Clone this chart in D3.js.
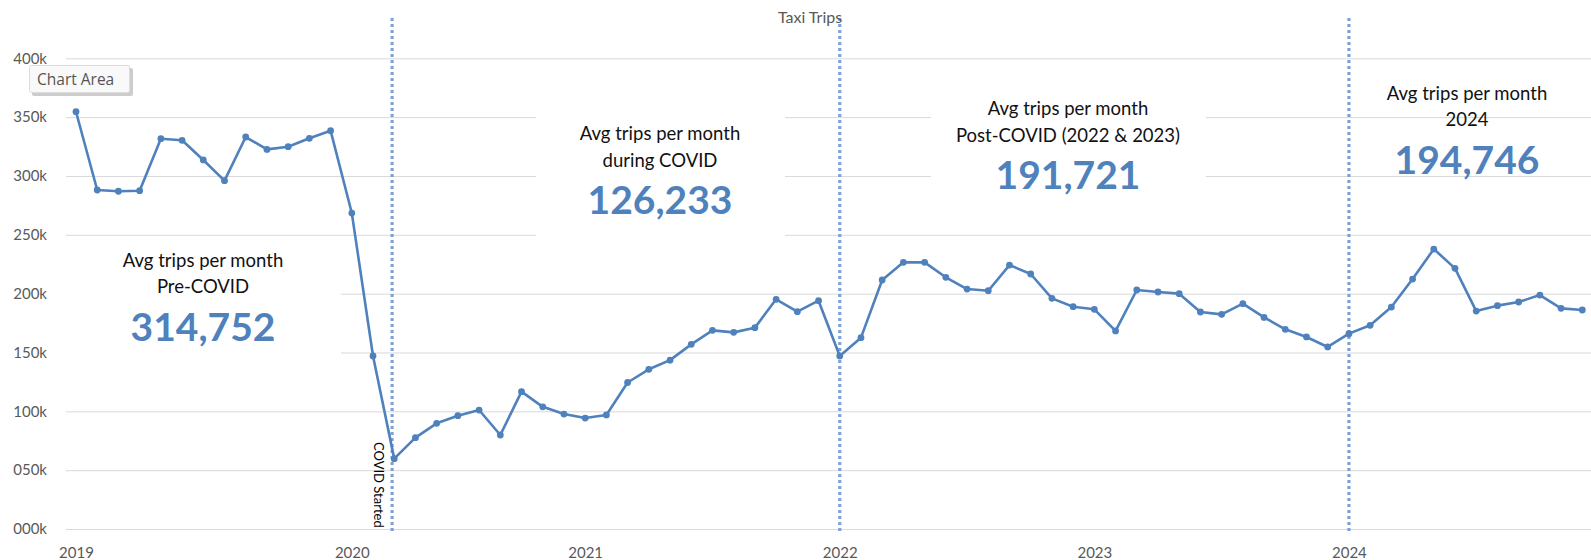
<!DOCTYPE html>
<html>
<head>
<meta charset="utf-8">
<script src="https://cdn.jsdelivr.net/npm/d3@7"></script>
<style>
  html, body { margin: 0; padding: 0; background: #fff; }
  svg text { font-family: Lato, "Open Sans", sans-serif; }
  .y-axis text, .x-axis text { fill: #595959; font-size: 15px; }
  .y-axis line { stroke: #d9d9d9; }
</style>
</head>
<body>
<div id="container"></div>
<script>
// monthly taxi trips, Jan..Dec of each year
const trips2019 = [354600, 288100, 287000, 287500, 331700, 330300, 313600, 296000, 333100, 322600, 324900, 332000];
const trips2020 = [338500, 268500, 147000, 59800, 77600, 89800, 96300, 101100, 79900, 116700, 103800, 97700];
const trips2021 = [94300, 96900, 124500, 135700, 143500, 156900, 168800, 167100, 171100, 195200, 184700, 194000];
const trips2022 = [147000, 162600, 211600, 226600, 226600, 213900, 203900, 202500, 224300, 216700, 196000, 188900];
const trips2023 = [186700, 168300, 203100, 201400, 200000, 184400, 182400, 191500, 179800, 169700, 163200, 154700];
const trips2024 = [166000, 173100, 188600, 212400, 237900, 221500, 185200, 189800, 192900, 198800, 187500, 186100];

const years = ["2019", "2020", "2021", "2022", "2023", "2024"];
// month index where each year label sits on the axis
const yearTickMonth = [0, 13, 24, 36, 48, 60];
const yTicks = [0, 50000, 100000, 150000, 200000, 250000, 300000, 350000, 400000];

// dotted marker lines (month index)
const markerMonths = [14.9, 36, 60];

// text boxes: label lines + big average number
const boxLines = [
  ["Avg trips per month", "Pre-COVID"],
  ["Avg trips per month", "during COVID"],
  ["Avg trips per month", "Post-COVID (2022 & 2023)"],
  ["Avg trips per month", "2024"]
];
const boxAverages = [314752, 126233, 191721, 194746];

const allTrips = [...trips2019, ...trips2020, ...trips2021, ...trips2022, ...trips2023, ...trips2024];
const dataset = allTrips.map((v, i) => ({ month: i, trips: v }));

const width = 1591;
const height = 560;
const lineColor = "#4f81bd";

const svg = d3.select("#container").append("svg")
  .attr("width", width)
  .attr("height", height);

const x = d3.scaleLinear()
  .domain([0, 71])
  .range([76, 1582.3]);

const y = d3.scaleLinear()
  .domain([0, 400000])
  .range([529, 58.3]);

// y axis with gridlines
svg.append("g")
  .attr("class", "y-axis")
  .attr("transform", "translate(66,0)")
  .call(d3.axisLeft(y)
    .tickValues(yTicks)
    .tickSize(-(width - 66))
    .tickPadding(19)
    .tickFormat(d => d3.format("03d")(d / 1000) + "k"))
  .call(g => g.select(".domain").remove());

// white text boxes that hide the gridlines behind them
const boxRects = [
  { x0: 65, x1: 341, y0: 240, y1: 395 },
  { x0: 536, x1: 785, y0: 80, y1: 255 },
  { x0: 931, x1: 1206, y0: 75, y1: 215 }
];
svg.append("g")
  .selectAll("rect")
  .data(boxRects)
  .join("rect")
  .attr("x", d => d.x0)
  .attr("y", d => d.y0)
  .attr("width", d => d.x1 - d.x0)
  .attr("height", d => d.y1 - d.y0)
  .attr("fill", "#fff");

// x axis
svg.append("g")
  .attr("class", "x-axis")
  .attr("transform", "translate(0,529)")
  .call(d3.axisBottom(x)
    .tickValues(yearTickMonth)
    .tickSize(0)
    .tickPadding(18)
    .tickFormat((d, i) => years[i]))
  .call(g => g.select(".domain").remove());

// dotted marker lines
svg.append("g")
  .selectAll("line")
  .data(markerMonths)
  .join("line")
  .attr("x1", d => x(d))
  .attr("x2", d => x(d))
  .attr("y1", 18)
  .attr("y2", 531)
  .attr("stroke", "#7ea2d8")
  .attr("stroke-width", 3.2)
  .attr("stroke-dasharray", "3,3");

svg.append("text")
  .attr("transform", `translate(${x(markerMonths[0]) - 18},442) rotate(90)`)
  .style("font-size", "13px")
  .attr("fill", "#000")
  .text("COVID Started");

// title
svg.append("text")
  .attr("x", 810)
  .attr("y", 23)
  .attr("text-anchor", "middle")
  .style("font-size", "16px")
  .attr("fill", "#595959")
  .text("Taxi Trips");

// series
const line = d3.line()
  .x(d => x(d.month))
  .y(d => y(d.trips));

svg.append("path")
  .datum(dataset)
  .attr("fill", "none")
  .attr("stroke", lineColor)
  .attr("stroke-width", 2.6)
  .attr("stroke-linejoin", "round")
  .attr("d", line);

svg.append("g")
  .selectAll("circle")
  .data(dataset)
  .join("circle")
  .attr("cx", d => x(d.month))
  .attr("cy", d => y(d.trips))
  .attr("r", 3.4)
  .attr("fill", lineColor);

// annotation texts
const boxPos = [
  { cx: 203, y: 266.7 },
  { cx: 660, y: 140 },
  { cx: 1068, y: 115 },
  { cx: 1467, y: 99.5 }
];
const fmt = d3.format(",");
boxPos.forEach((p, i) => {
  const g = svg.append("g").attr("text-anchor", "middle");
  boxLines[i].forEach((t, j) => {
    g.append("text")
      .attr("x", p.cx)
      .attr("y", p.y + j * 26.6)
      .style("font-size", "18.5px")
      .attr("fill", "#111")
      .text(t);
  });
  g.append("text")
    .attr("x", p.cx)
    .attr("y", p.y + 26.6 + 47.5)
    .style("font-size", "39px")
    .style("font-weight", "bold")
    .attr("fill", lineColor)
    .text(fmt(boxAverages[i]));
});

// hover tooltip left on the chart
const tip = svg.append("g").attr("transform", "translate(29,65)");
tip.append("rect")
  .attr("x", 3).attr("y", 3)
  .attr("width", 101).attr("height", 28)
  .attr("rx", 2)
  .attr("fill", "#9a9a9a")
  .attr("opacity", 0.5);
tip.append("rect")
  .attr("x", 0.5).attr("y", 0.5)
  .attr("width", 100).attr("height", 27)
  .attr("rx", 2)
  .attr("fill", "#f9f9f9")
  .attr("stroke", "#dcdcdc");
tip.append("text")
  .attr("x", 8)
  .attr("y", 20)
  .style("font-family", "'Open Sans', sans-serif")
  .style("font-size", "15.5px")
  .attr("fill", "#555")
  .text("Chart Area");
</script>
</body>
</html>
